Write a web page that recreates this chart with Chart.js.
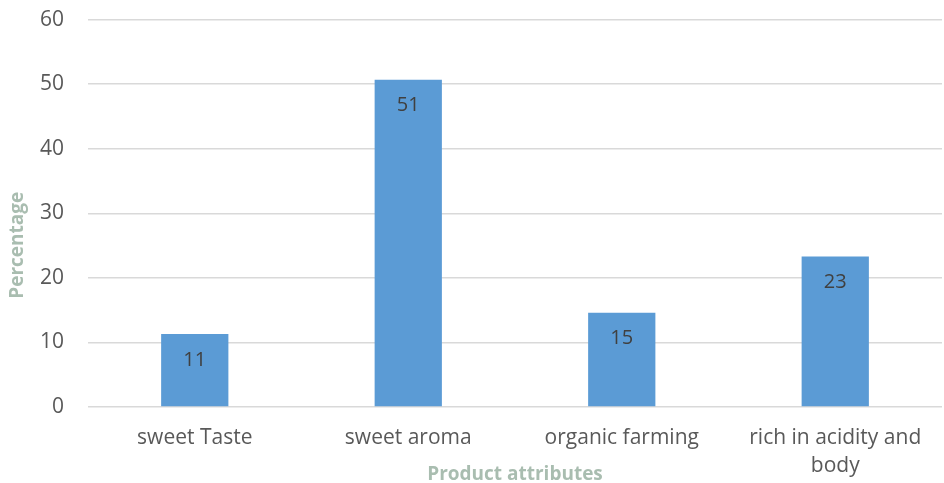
<!DOCTYPE html>
<html>
<head>
<meta charset="utf-8">
<script src="https://cdn.jsdelivr.net/npm/chart.js@4/dist/chart.umd.min.js"></script>
<style>
  html, body { margin: 0; padding: 0; background: #fff; }
  #wrap { width: 944px; height: 483px; }
</style>
</head>
<body>
<div id="wrap"><canvas id="myChart"></canvas></div>
<script>
const categories = ['sweet Taste', 'sweet aroma', 'organic farming', ['rich in acidity and', 'body']];
const percentages = [11.3, 50.7, 14.6, 23.3];
const shownLabels = ['11', '51', '15', '23'];
const yTicks = [0, 10, 20, 30, 40, 50, 60];
const xTitle = 'Product attributes';
const yTitle = 'Percentage';

// value labels inside the bars + the two axis titles
const extras = {
    id: 'extras',
    afterDatasetsDraw(chart) {
        const ctx = chart.ctx;
        const area = chart.chartArea;
        const meta = chart.getDatasetMeta(0);
        ctx.save();
        ctx.font = '20px "Open Sans"';
        ctx.fillStyle = '#404040';
        ctx.textAlign = 'center';
        ctx.textBaseline = 'middle';
        meta.data.forEach((bar, i) => {
            ctx.fillText(shownLabels[i], bar.x, bar.y + 26);
        });

        ctx.font = 'bold 19px "Open Sans"';
        ctx.fillStyle = '#A9BDB0';
        ctx.fillText(xTitle, (area.left + area.right) / 2, chart.height - 8);

        ctx.translate(18, (area.top + chart.height) / 2 - 6);
        ctx.rotate(-Math.PI / 2);
        ctx.fillText(yTitle, 0, 0);
        ctx.restore();
    }
};

const ctx = document.getElementById('myChart').getContext('2d');
const chart = new Chart(ctx, {
    type: 'bar',
    data: {
        labels: categories,
        datasets: [{
            data: percentages,
            backgroundColor: '#5B9BD5',
            borderWidth: 0,
            categoryPercentage: 1,
            barPercentage: 0.315
        }]
    },
    options: {
        responsive: true,
        maintainAspectRatio: false,
        animation: false,
        layout: { padding: { top: 0, right: 2, left: 33, bottom: -14 } },
        plugins: {
            legend: { display: false },
            tooltip: { enabled: false }
        },
        scales: {
            x: {
                grid: { display: false, drawTicks: false },
                border: { display: false },
                ticks: {
                    color: '#595959',
                    font: { family: 'Open Sans', size: 21, lineHeight: 1.38 },
                    padding: 16,
                    maxRotation: 0,
                    autoSkip: false
                }
            },
            y: {
                min: 0,
                max: 60,
                afterBuildTicks(axis) {
                    axis.ticks = yTicks.map(v => ({ value: v }));
                },
                grid: {
                    color: '#D9D9D9',
                    lineWidth: 1.5,
                    drawTicks: true,
                    tickLength: 17,
                    tickColor: 'rgba(0,0,0,0)'
                },
                border: { display: false },
                ticks: {
                    color: '#595959',
                    font: { family: 'Open Sans', size: 21 },
                    padding: 7
                }
            }
        }
    },
    plugins: [extras]
});
</script>
</body>
</html>
